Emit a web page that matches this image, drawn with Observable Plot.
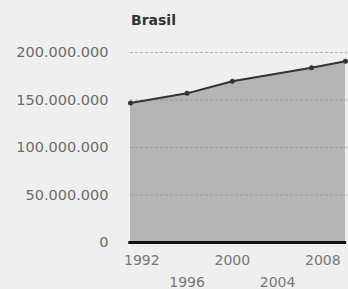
<!DOCTYPE html>
<html>
<head>
<meta charset="utf-8">
<script src="https://cdn.jsdelivr.net/npm/d3@7"></script>
<script src="https://cdn.jsdelivr.net/npm/@observablehq/plot@0.6"></script>
<style>
  body { margin: 0; background: #efefef; font-family: "DejaVu Sans", sans-serif; }
  #title { height: 30px; box-sizing: border-box; padding-top: 12px; padding-left: 131px;
           font-size: 14px; font-weight: bold; color: #333; line-height: 16px; }
</style>
</head>
<body>
<div id="title">Brasil</div>
<div id="chart"></div>
<script>
const years = [1991, 1996, 2000, 2007, 2010];
const population = [146800000, 157000000, 169800000, 183900000, 190700000];
const yTicks = [0, 50000000, 100000000, 150000000, 200000000];
const xTicksRow1 = [1992, 2000, 2008];
const xTicksRow2 = [1996, 2004];

const data = years.map((y, i) => ({year: y, pop: population[i]}));
const fmt = d3.formatLocale({decimal: ",", thousands: ".", grouping: [3], currency: ["", ""]}).format(",d");

const chart = Plot.plot({
  width: 348,
  height: 259,
  marginLeft: 130,
  marginRight: 3,
  marginTop: 22,
  marginBottom: 47,
  style: {background: "transparent", fontFamily: "DejaVu Sans, sans-serif", fontSize: "14px", color: "#666"},
  x: {domain: [1991, 2010], axis: null},
  y: {domain: [0, 200000000], axis: null},
  marks: [
    Plot.areaY(data, {x: "year", y: "pop", fill: "#b4b4b4"}),
    Plot.ruleY(yTicks.slice(1), {stroke: "#8a8a8a", strokeWidth: 1, strokeDasharray: "3,2", strokeOpacity: 0.6, x1: 1991, x2: 2010.2}),
    Plot.axisY({ticks: yTicks, tickSize: 0, tickPadding: 22, tickFormat: fmt, fill: "#6a6a6a", fontSize: 14.5, label: null}),
    Plot.line(data, {x: "year", y: "pop", stroke: "#333", strokeWidth: 2}),
    Plot.dot(data, {x: "year", y: "pop", r: 2.5, fill: "#333"}),
    Plot.ruleY([0], {stroke: "#111", strokeWidth: 3, x1: 1990.85, x2: 2010.1}),
    Plot.axisX({ticks: xTicksRow1, tickSize: 0, tickPadding: 13, tickFormat: d => String(d), fill: "#777", fontSize: 14, label: null}),
    Plot.axisX({ticks: xTicksRow2, tickSize: 0, tickPadding: 35, tickFormat: d => String(d), fill: "#777", fontSize: 14, label: null})
  ]
});
document.getElementById("chart").appendChild(chart);
</script>
</body>
</html>
